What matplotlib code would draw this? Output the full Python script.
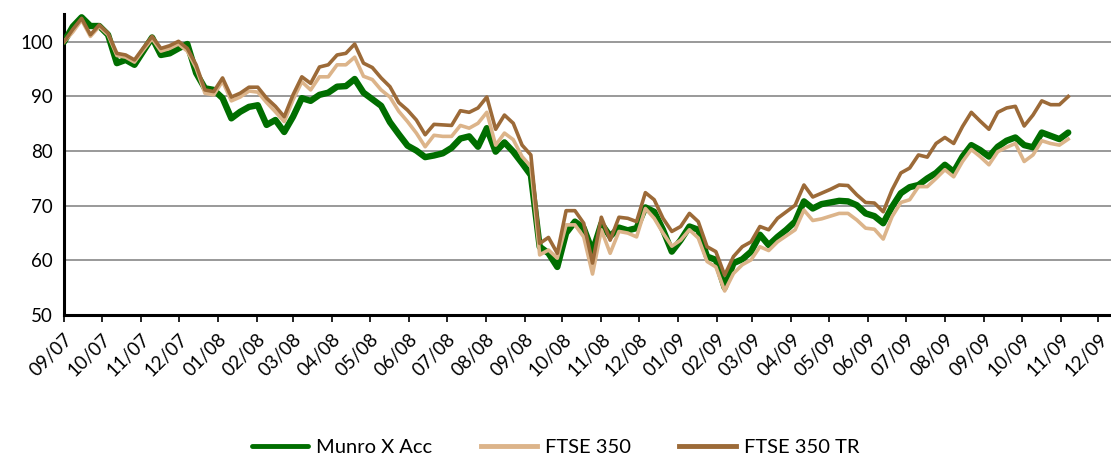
import pandas as pd
import matplotlib
matplotlib.use("Agg")
import matplotlib.pyplot as plt
import matplotlib.dates as mdates

# Weekly index values, rebased to 100
start_date = "2007-09-01"
munro_x_acc = [
    100.0, 102.8, 104.5, 102.9, 102.9, 101.3, 96.1, 96.7, 95.8, 98.3,
    100.8, 97.6, 97.9, 98.8, 99.6, 94.3, 91.5, 91.2, 89.7, 86.0,
    87.2, 88.1, 88.4, 84.8, 85.7, 83.5, 86.3, 89.7, 89.2, 90.3,
    90.7, 91.8, 91.9, 93.2, 90.7, 89.5, 88.3, 85.3, 83.1, 81.0,
    80.1, 78.9, 79.2, 79.6, 80.6, 82.3, 82.7, 80.8, 84.2, 79.9,
    81.6, 79.9, 77.8, 75.6, 62.5, 61.3, 58.8, 65.0, 67.1, 65.9,
    61.6, 66.7, 64.4, 66.0, 65.5, 65.9, 69.7, 68.9, 65.6, 61.6,
    63.7, 66.2, 65.6, 60.7, 60.1, 55.0, 59.5, 60.2, 61.6, 64.7,
    62.8, 64.3, 65.6, 67.1, 70.8, 69.5, 70.3, 70.6, 70.9, 70.8,
    70.1, 68.6, 68.1, 66.8, 69.8, 72.3, 73.4, 73.8, 75.0, 76.0,
    77.5, 76.2, 79.0, 81.1, 80.2, 79.0, 80.8, 81.9, 82.5, 81.1,
    80.7, 83.4, 82.8, 82.2, 83.4,
]
ftse_350 = [
    100.0, 101.8, 104.0, 101.0, 102.8, 101.3, 97.5, 97.2, 96.3, 98.5,
    100.6, 98.3, 98.8, 99.6, 98.3, 95.2, 90.6, 90.3, 92.8, 89.2,
    89.9, 91.0, 90.8, 88.9, 87.2, 85.4, 89.4, 92.7, 91.2, 93.6,
    93.6, 95.8, 95.8, 97.2, 93.7, 93.1, 91.2, 89.9, 87.3, 85.4,
    83.3, 80.8, 82.9, 82.7, 82.7, 84.7, 84.2, 85.1, 87.1, 81.1,
    83.3, 82.1, 79.0, 77.2, 61.0, 61.9, 60.4, 66.5, 66.5, 64.3,
    57.5, 65.6, 61.3, 65.3, 65.0, 64.3, 69.5, 67.7, 65.0, 62.6,
    63.7, 65.6, 64.1, 59.8, 58.8, 54.4, 57.6, 59.2, 60.1, 62.5,
    61.8, 63.4, 64.5, 65.6, 69.2, 67.3, 67.6, 68.1, 68.6, 68.6,
    67.4, 65.9, 65.7, 63.9, 68.0, 70.6, 71.1, 73.5, 73.5, 75.0,
    76.6, 75.3, 78.1, 80.3, 79.0, 77.5, 79.9, 80.7, 81.4, 78.1,
    79.3, 81.9, 81.4, 81.1, 82.2,
]
ftse_350_tr = [
    100.0, 102.3, 104.3, 101.3, 103.1, 101.6, 97.9, 97.6, 96.7, 98.9,
    101.0, 98.8, 99.3, 100.1, 98.8, 95.8, 91.2, 90.9, 93.4, 89.9,
    90.6, 91.7, 91.7, 89.7, 88.2, 86.3, 90.3, 93.6, 92.4, 95.4,
    95.8, 97.6, 97.9, 99.6, 96.1, 95.3, 93.4, 91.8, 88.9, 87.5,
    85.7, 83.0, 84.9, 84.8, 84.7, 87.4, 87.1, 87.9, 89.9, 84.0,
    86.6, 85.1, 81.1, 79.3, 63.1, 64.2, 61.3, 69.1, 69.1, 66.8,
    59.5, 67.9, 63.7, 67.9, 67.7, 67.1, 72.4, 71.1, 67.7, 65.3,
    66.2, 68.6, 67.1, 62.5, 61.6, 57.3, 60.7, 62.5, 63.4, 66.2,
    65.6, 67.7, 68.9, 70.1, 73.8, 71.6, 72.3, 73.0, 73.8, 73.7,
    72.0, 70.6, 70.5, 68.9, 72.9, 76.0, 76.9, 79.3, 78.9, 81.4,
    82.5, 81.4, 84.5, 87.1, 85.5, 84.0, 87.1, 87.9, 88.2, 84.6,
    86.6, 89.2, 88.5, 88.5, 90.0,
]
series_names = ["Munro X Acc", "FTSE 350", "FTSE 350 TR"]
y_ticks = [50, 60, 70, 80, 90, 100]

dates = pd.date_range(start_date, periods=len(munro_x_acc), freq="7D")

plt.rcParams["font.family"] = ["Lato", "DejaVu Sans"]

fig = plt.figure(figsize=(11.11, 4.59), dpi=100)
ax = fig.add_axes([0.0576, 0.3137, 0.9424, 0.6558])

ax.plot(dates, munro_x_acc, color="#006e00", lw=4.6, label=series_names[0],
        solid_joinstyle="round", solid_capstyle="round", zorder=3)
ax.plot(dates, ftse_350, color="#dcb48a", lw=2.6, label=series_names[1], zorder=4)
ax.plot(dates, ftse_350_tr, color="#9c6a38", lw=2.6, label=series_names[2], zorder=5)

ax.set_ylim(50, 105.1)
ax.set_xlim(pd.Timestamp("2007-09-01"), pd.Timestamp("2009-12-11"))
ax.set_yticks(y_ticks)
ax.yaxis.grid(True, color="#999999", lw=1.4)
ax.set_axisbelow(True)

ax.xaxis.set_major_locator(mdates.MonthLocator())
ax.xaxis.set_major_formatter(mdates.DateFormatter("%m/%y"))

for s in ["top", "right"]:
    ax.spines[s].set_visible(False)
ax.spines["left"].set_linewidth(2.2)
ax.spines["bottom"].set_linewidth(2.2)

ax.tick_params(axis="y", length=0, pad=8, labelsize=13.5)
ax.tick_params(axis="x", length=5, width=1.2, direction="out", pad=6, labelsize=13.5)
for lab in ax.get_xticklabels():
    lab.set_rotation(45)
    lab.set_ha("right")
    lab.set_va("top")
    lab.set_rotation_mode("anchor")

leg = fig.legend(loc="center", bbox_to_anchor=(0.5, 0.026), ncol=3, frameon=False,
                 fontsize=14.5, handlelength=2.8, columnspacing=2.4, handletextpad=0.4)
for line in leg.get_lines():
    line.set_linewidth(3.5)

fig.savefig("out.png", dpi=100)
